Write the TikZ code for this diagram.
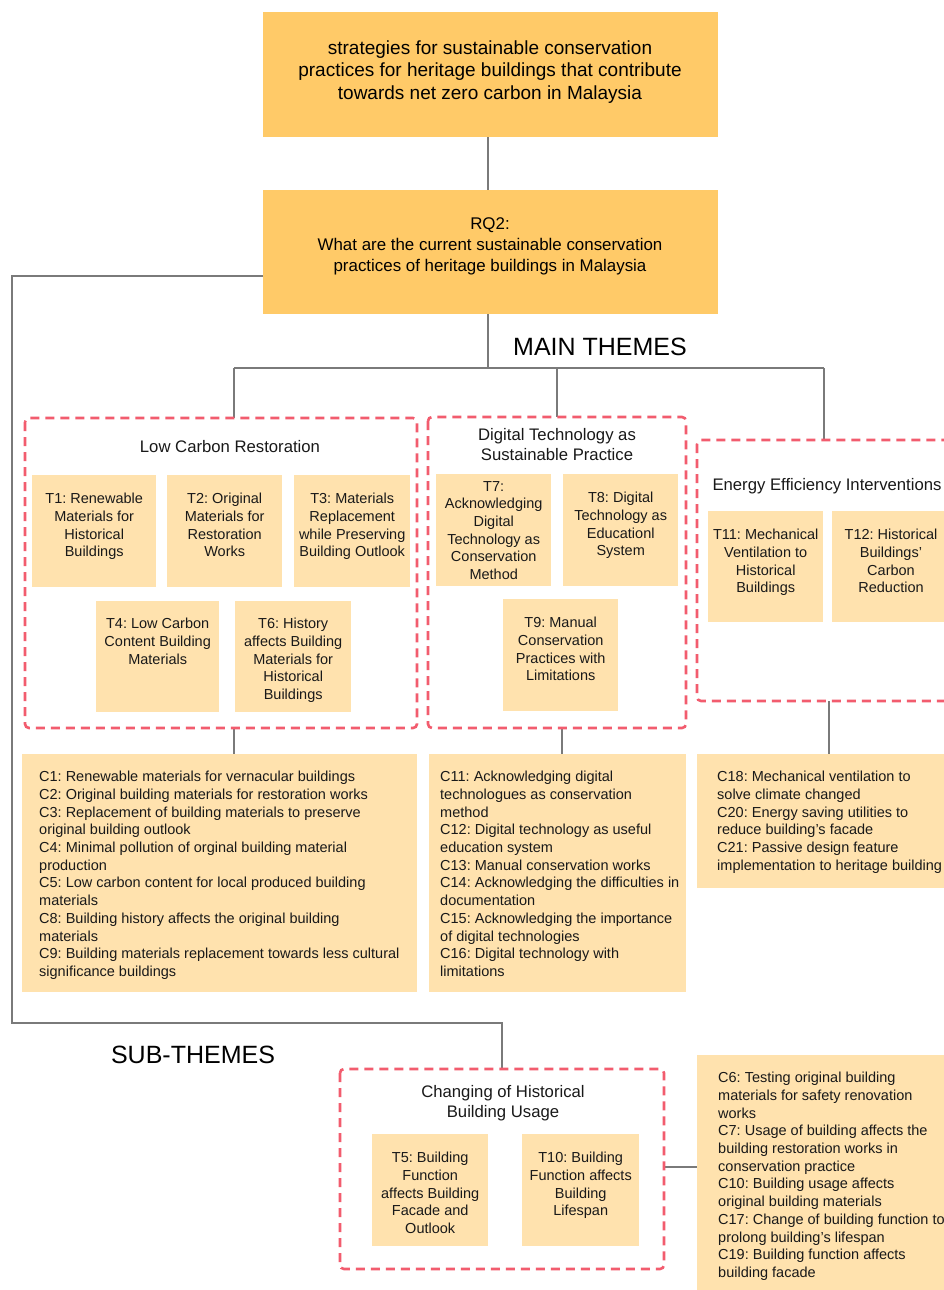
\documentclass[tikz,border=0pt]{standalone}
\usepackage{fontspec}
\setmainfont{Liberation Sans}
\frenchspacing
\definecolor{dark}{HTML}{FFCA68}
\definecolor{light}{HTML}{FFE2AE}
\definecolor{redd}{HTML}{F25C6E}
\definecolor{linec}{HTML}{7A7A7A}
\begin{document}
\begin{tikzpicture}[x=1pt,y=-1pt,
  mainbox/.style={fill=dark, draw=none, anchor=north west, inner sep=0pt},
  tbox/.style={fill=light, draw=none, anchor=north west, inner sep=0pt, minimum width=#1},
  tbox/.default=115pt,
  ttext/.style={anchor=north, align=center, inner sep=0pt, font=\frenchspacing\fontsize{14.5}{17.7}\selectfont, text=black!90},
  ctext/.style={anchor=north west, align=left, inner sep=0pt, font=\frenchspacing\fontsize{14.5}{17.7}\selectfont, text=black!90},
  title/.style={align=center, inner sep=0pt, font=\fontsize{16.7}{20}\selectfont, text=black!90},
  group/.style={draw=redd, line width=2.6pt, dash pattern=on 9pt off 6pt, rounded corners=4pt},
  conn/.style={draw=linec, line width=1.2pt},
  big/.style={inner sep=0pt, font=\fontsize{25}{28}\selectfont}
]
\clip (0,0) rectangle (944,1290);
\fill[white] (0,0) rectangle (944,1290);

% ---- top boxes
\node[mainbox, minimum width=455pt, minimum height=125pt] (top) at (263,12) {};
\node[align=center, inner sep=0pt, font=\fontsize{19}{22.5}\selectfont] (toptxt) at (490,72)
  {strategies for sustainable conservation\\practices for heritage buildings that contribute\\towards net zero carbon in Malaysia};
\node[mainbox, minimum width=455pt, minimum height=124pt] (rq2) at (263,190) {};
\node[align=center, inner sep=0pt, font=\fontsize{16.9}{21}\selectfont] (rq2txt) at (490,246)
  {RQ2:\\What are the current sustainable conservation\\practices of heritage buildings in Malaysia};

\node[big] (mainth) at (600,347) {MAIN THEMES};
\node[big] (subth) at (193,1055) {SUB-THEMES};

% ---- connectors
\coordinate (jm) at (488,368);
\coordinate (jl) at (234,368);
\coordinate (jd) at (557,368);
\coordinate (je) at (824,368);
\coordinate (ls) at (263,276);
\coordinate (lc) at (12,276);
\coordinate (ld) at (12,1023);
\coordinate (lr) at (502,1023);
\draw[conn] (488,137) -- (488,190);
\draw[conn] (488,314) -- (jm);
\draw[conn] (jl) -- (je);
\draw[conn] (jl) -- (234,418);
\draw[conn] (jd) -- (557,417);
\draw[conn] (je) -- (824,440);
\draw[conn] (ls) -- (lc) -- (ld) -- (lr) -- (502,1069);
\draw[conn] (234,728) -- (234,754);
\draw[conn] (562,728) -- (562,754);
\draw[conn] (829,701) -- (829,754);
\draw[conn] (664,1167) -- (697,1167);

% ---- group: Low Carbon Restoration
\draw[group] (25,418) rectangle (417,728);
\node[title] (lcrt) at (230,447) {Low Carbon Restoration};
\node[tbox=124pt, minimum height=112pt] (t1) at (32,475) {};
\node[ttext] (t1t) at ([yshift=-18]t1.north) {T1: Renewable\\Materials for\\Historical\\Buildings};
\node[tbox=115pt, minimum height=112pt] (t2) at (167,475) {};
\node[ttext] (t2t) at ([yshift=-18]t2.north) {T2: Original\\Materials for\\Restoration\\Works};
\node[tbox=116pt, minimum height=112pt] (t3) at (294,475) {};
\node[ttext] (t3t) at ([yshift=-18]t3.north) {T3: Materials\\Replacement\\while Preserving\\Building Outlook};
\node[tbox=123pt, minimum height=111pt] (t4) at (96,601) {};
\node[ttext] (t4t) at ([yshift=-17]t4.north) {T4: Low Carbon\\Content Building\\Materials};
\node[tbox=116pt, minimum height=111pt] (t6) at (235,601) {};
\node[ttext] (t6t) at ([yshift=-17]t6.north) {T6: History\\affects Building\\Materials for\\Historical\\Buildings};

% ---- group: Digital Technology
\draw[group] (428,417) rectangle (686,728);
\node[title] (dgt) at (557,445) {Digital Technology as\\Sustainable Practice};
\node[tbox=115pt, minimum height=112pt] (t7) at (436,474) {};
\node[ttext] (t7t) at ([yshift=-7]t7.north) {T7:\\Acknowledging\\Digital\\Technology as\\Conservation\\Method};
\node[tbox=115pt, minimum height=112pt] (t8) at (563,474) {};
\node[ttext] (t8t) at ([yshift=-18]t8.north) {T8: Digital\\Technology as\\Educationl\\System};
\node[tbox=115pt, minimum height=112pt] (t9) at (503,599) {};
\node[ttext] (t9t) at ([yshift=-18]t9.north) {T9: Manual\\Conservation\\Practices with\\Limitations};

% ---- group: Energy Efficiency
\draw[group] (697,440) rectangle (965,701);
\node[title] (eet) at (827,486) {Energy Efficiency Interventions};
\node[tbox=115pt, minimum height=111pt] (t11) at (708,511) {};
\node[ttext] (t11t) at ([yshift=-18]t11.north) {T11: Mechanical\\Ventilation to\\Historical\\Buildings};
\node[tbox=118pt, minimum height=111pt] (t12) at (832,511) {};
\node[ttext] (t12t) at (891,529) {T12: Historical\\Buildings'\\Carbon\\Reduction};

% ---- C boxes
\node[tbox=395pt, minimum height=238pt] (c1) at (22,754) {};
\node[ctext] (c1t) at (39,771) {C1: Renewable materials for vernacular buildings\\
C2: Original building materials for restoration works\\
C3: Replacement of building materials to preserve\\
original building outlook\\
C4: Minimal pollution of orginal building material\\
production\\
C5: Low carbon content for local produced building\\
materials\\
C8: Building history affects the original building\\
materials\\
C9: Building materials replacement towards less cultural\\
significance buildings};
\node[tbox=257pt, minimum height=238pt] (c2) at (429,754) {};
\node[ctext] (c2t) at (440,771) {C11: Acknowledging digital\\
technologues as conservation\\
method\\
C12: Digital technology as useful\\
education system\\
C13: Manual conservation works\\
C14: Acknowledging the difficulties in\\
documentation\\
C15: Acknowledging the importance\\
of digital technologies\\
C16: Digital technology with\\
limitations};
\node[tbox=270pt, minimum height=134pt] (c3) at (697,754) {};
\node[ctext] (c3t) at (717,771) {C18: Mechanical ventilation to\\
solve climate changed\\
C20: Energy saving utilities to\\
reduce building's facade\\
C21: Passive design feature\\
implementation to heritage building};

% ---- Sub-theme group
\draw[group] (340,1069) rectangle (664,1269);
\node[title] (cht) at (503,1103) {Changing of Historical\\Building Usage};
\node[tbox=116pt, minimum height=112pt] (t5) at (372,1134) {};
\node[ttext] (t5t) at ([yshift=-18]t5.north) {T5: Building\\Function\\affects Building\\Facade and\\Outlook};
\node[tbox=117pt, minimum height=112pt] (t10) at (522,1134) {};
\node[ttext] (t10t) at ([yshift=-18]t10.north) {T10: Building\\Function affects\\Building\\Lifespan};
\node[tbox=270pt, minimum height=250pt] (c4) at (697,1055) {};
\node[ctext] (c4t) at (718,1072) {C6: Testing original building\\
materials for safety renovation\\
works\\
C7: Usage of building affects the\\
building restoration works in\\
conservation practice\\
C10: Building usage affects\\
original building materials\\
C17: Change of building function to\\
prolong building's lifespan\\
C19: Building function affects\\
building facade};
\end{tikzpicture}
\end{document}
